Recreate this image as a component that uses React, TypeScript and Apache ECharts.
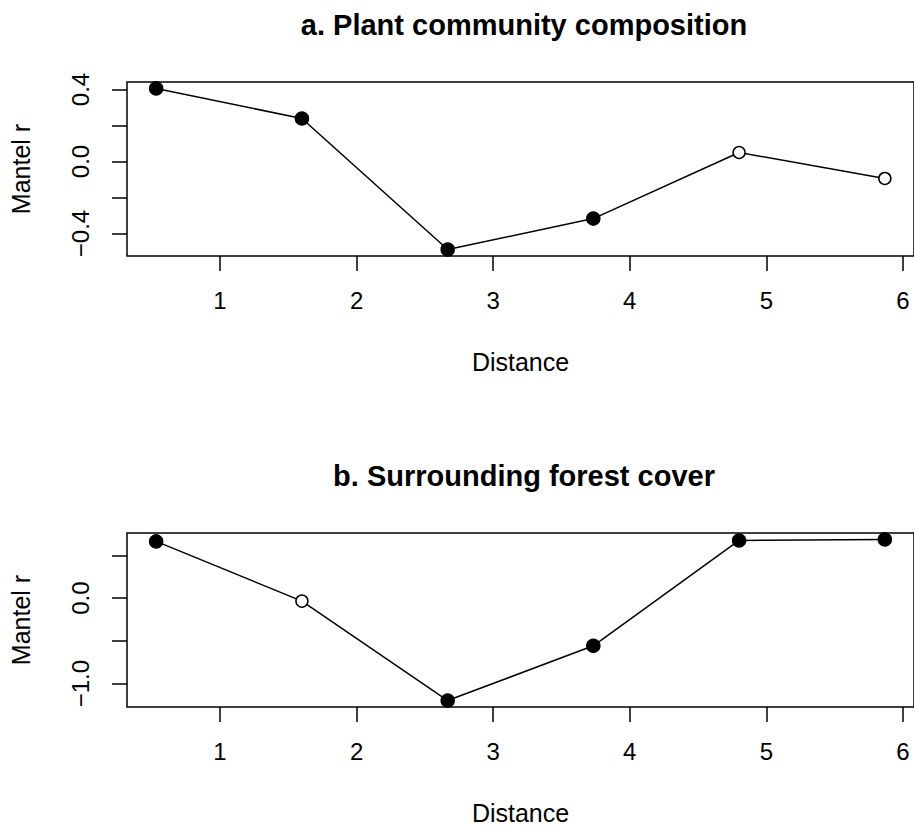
import React, { useEffect, useRef } from 'react';
import * as echarts from 'echarts';

const distances = [0.533, 1.6, 2.667, 3.733, 4.8, 5.867];
const plantR = [0.406, 0.239, -0.489, -0.317, 0.05, -0.094];
const plantSig = [true, true, true, true, false, false];
const forestR = [0.663, -0.035, -1.198, -0.558, 0.674, 0.686];
const forestSig = [true, false, true, true, true, true];

const xTicks = [1, 2, 3, 4, 5, 6];
const plantYTicks = [-0.4, -0.2, 0, 0.2, 0.4];
const plantYLabels = [-0.4, 0, 0.4];
const forestYTicks = [-1, -0.5, 0, 0.5];
const forestYLabels = [-1, 0];

const titles = ['a. Plant community composition', 'b. Surrounding forest cover'];
const xName = 'Distance';
const yName = 'Mantel r';

const FONT = "'Liberation Sans', Arial, Helvetica, sans-serif";

function rRange(vals: number[]) {
  const lo = Math.min(...vals);
  const hi = Math.max(...vals);
  const ext = (hi - lo) * 0.04;
  return [lo - ext, hi + ext];
}

function fmt(v: number) {
  const a = Math.abs(v).toFixed(1);
  return v < -1e-9 ? '\u2212' + a : a;
}

export default function App() {
  const ref = useRef<HTMLDivElement>(null);
  useEffect(() => {
    if (!ref.current) return;
    const chart = echarts.init(ref.current, undefined, { renderer: 'svg' });
    const xr = rRange(distances);
    const pr = rRange(plantR);
    const fr = rRange(forestR);
    const tickStyle = { show: true, inside: false, length: 15, lineStyle: { color: '#000', width: 1.5 } };
    const labelBase = { color: '#000', fontSize: 24, fontFamily: FONT };
    const nameBase = { color: '#000', fontSize: 25, fontFamily: FONT };
    const xAxisDef = (gridIndex: number) => ({
      type: 'value',
      gridIndex,
      min: xr[0],
      max: xr[1],
      axisLine: { show: false, onZero: false },
      splitLine: { show: false },
      axisTick: { ...tickStyle, customValues: xTicks },
      axisLabel: { ...labelBase, margin: 32, customValues: xTicks, formatter: (v: number) => String(v) },
      name: xName,
      nameLocation: 'middle',
      nameGap: 93,
      nameTextStyle: { ...nameBase },
    });
    const yAxisDef = (gridIndex: number, range: number[], ticks: number[], labels: number[]) => ({
      type: 'value',
      gridIndex,
      min: range[0],
      max: range[1],
      axisLine: { show: false, onZero: false },
      splitLine: { show: false },
      axisTick: { ...tickStyle, customValues: ticks },
      axisLabel: { ...labelBase, margin: 35, rotate: 90, customValues: labels, formatter: (v: number) => fmt(v) },
      name: yName,
      nameLocation: 'middle',
      nameRotate: 90,
      nameGap: 94,
      nameTextStyle: { ...nameBase },
    });
    const seriesDef = (idx: number, ys: number[], sig: boolean[]) => ({
      type: 'line',
      xAxisIndex: idx,
      yAxisIndex: idx,
      symbol: 'circle',
      lineStyle: { color: '#000', width: 1.5 },
      data: distances.map((d, i) => ({
        value: [d, ys[i]],
        symbolSize: sig[i] ? 13 : 12,
        itemStyle: { color: sig[i] ? '#000' : '#fff', borderColor: '#000', borderWidth: 1.5 },
      })),
      z: 3,
    });
    const titleStyle = { fontSize: 29, fontWeight: 'bold', color: '#000', fontFamily: FONT };
    chart.setOption({
      animation: false,
      backgroundColor: '#fff',
      title: [
        { text: titles[0], left: 519, top: 5, textAlign: 'center', textStyle: titleStyle },
        { text: titles[1], left: 519, top: 456, textAlign: 'center', textStyle: titleStyle },
      ],
      grid: [
        { left: 127, top: 82, width: 789, height: 174, show: true, borderColor: '#000', borderWidth: 1.5, backgroundColor: 'transparent' },
        { left: 127, top: 533, width: 789, height: 174, show: true, borderColor: '#000', borderWidth: 1.5, backgroundColor: 'transparent' },
      ],
      xAxis: [xAxisDef(0), xAxisDef(1)],
      yAxis: [yAxisDef(0, pr, plantYTicks, plantYLabels), yAxisDef(1, fr, forestYTicks, forestYLabels)],
      series: [seriesDef(0, plantR, plantSig), seriesDef(1, forestR, forestSig)],
    });
    return () => chart.dispose();
  }, []);
  return <div ref={ref} style={{ position: 'absolute', left: 0, top: 0, width: 914, height: 826, background: '#fff' }} />;
}
